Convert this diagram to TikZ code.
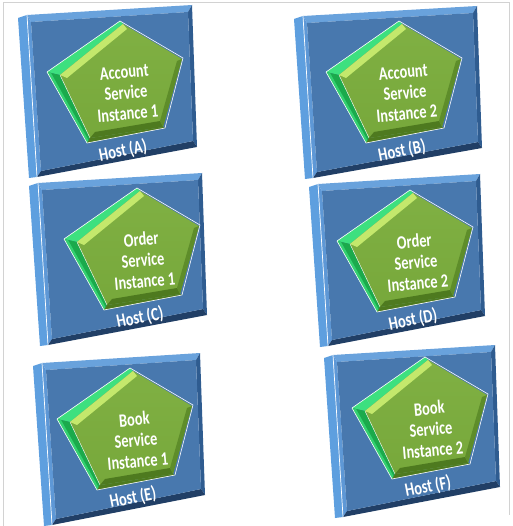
\documentclass[tikz,border=0pt]{standalone}
\usepackage{fontspec}
\newfontfamily\boxfont{Carlito}[FakeStretch=0.76]

\definecolor{hostleft}{HTML}{5E9FDF}
\definecolor{hostrimtop}{HTML}{69A2DC}
\definecolor{hostrimleft}{HTML}{5E98D6}
\definecolor{hostrimright}{HTML}{2F5C90}
\definecolor{hostrimbottom}{HTML}{213F66}
\definecolor{hostface}{HTML}{4878AE}
\definecolor{pentupper}{HTML}{3DE07F}
\definecolor{pentpale}{HTML}{C4E86C}
\definecolor{pentlower}{HTML}{1BAA4C}
\definecolor{pentfront}{HTML}{77A83B}
\definecolor{pentfronttop}{HTML}{80B043}
\definecolor{pentbottom}{HTML}{4E7A1F}
\definecolor{framegray}{HTML}{D2D2D2}

\begin{document}
\begin{tikzpicture}[
x=1bp,y=-1bp,
svctext/.style={
  text=white,
  font=\boxfont\bfseries\fontsize{19}{21}\selectfont,
  align=center,
  inner sep=0pt,
  rotate=5
  },
hostlabel/.style={svctext,rotate=6}
]
\useasboundingbox (0,0) rectangle (513,526);
\draw[framegray,line width=0.8] (3,526) -- (3,2) -- (509,2) -- (509,515);
\foreach \n/\bx/\by/\w/\px/\py/\svc/\k in {
  A/27/15/165/120/21/Account/1,
  B/303/16/174/399/21/Account/2,
  C/38/183/164/137/188/Order/1,
  D/318/184/162/410/190/Order/2,
  E/42/363/158/130/368/Book/1,
  F/333/355/162/425/357/Book/2}
{
  % host box
  \begin{scope}[shift={(\bx,\by)}]
    \fill[hostleft] (-9,3) -- (0,0) -- (10,162) -- (2,163) -- cycle;
    \fill[hostrimtop] (0,0) -- (\w,-10) -- ({\w-4},-3) -- (4,7) -- cycle;
    \fill[hostrimleft] (0,0) -- (4,7) -- (14,156) -- (10,162) -- cycle;
    \fill[hostrimright] (\w,-10) -- ({\w+5},132) -- ({\w+1},126) -- ({\w-4},-3) -- cycle;
    \fill[hostrimbottom] (10,162) -- (14,156) -- ({\w+1},126) -- ({\w+5},132) -- cycle;
    \fill[hostface] (4,7) -- ({\w-4},-3) -- ({\w+1},126) -- (14,156) -- cycle;
    \draw[white,line width=0.7] (0,0) -- (10,162);
  \end{scope}
  % service pentagon
  \begin{scope}[shift={(\px,\py)}]
    \fill[pentupper] (-73,51) -- (0,0) -- (3,3) -- (-60,54) -- cycle;
    \fill[pentlower] (-73,51) -- (-60,54) -- (-30,117) -- (-33,122) -- cycle;
    \fill[pentupper!70!pentlower] (-73,51) -- (-69,52) -- (-31,120) -- (-33,122) -- cycle;
    \fill[pentbottom] (-33,122) -- (-30,117) -- (43,106) -- (45,107) -- cycle;
    \shade[top color=pentfronttop,bottom color=pentfront] (3,3) -- (62,38) -- (43,106) -- (-30,117) -- (-60,54) -- cycle;
    \fill[pentpale] (-60,54) -- (3,3) -- (7,8) -- (-53,57) -- cycle;
    \fill[pentbottom] (-30,117) -- (43,106) -- (40,100) -- (-25,111) -- cycle;
    \fill[pentbottom!60!pentfront] (43,106) -- (62,38) -- (57,40) -- (40,100) -- cycle;
    \draw[white,line width=0.6,line join=round] (0,0) -- (63,37) -- (45,107) -- (-33,122) -- (-73,51) -- cycle;
    \draw[white,line width=0.4] (-60,54) -- (-30,117);
    \node[svctext] (svc\n) at (6,72) {\svc\\Service\\Instance \k};
    \node[hostlabel] (host\n) at (3,130) {Host (\n)};
  \end{scope}
}
\end{tikzpicture}
\end{document}
